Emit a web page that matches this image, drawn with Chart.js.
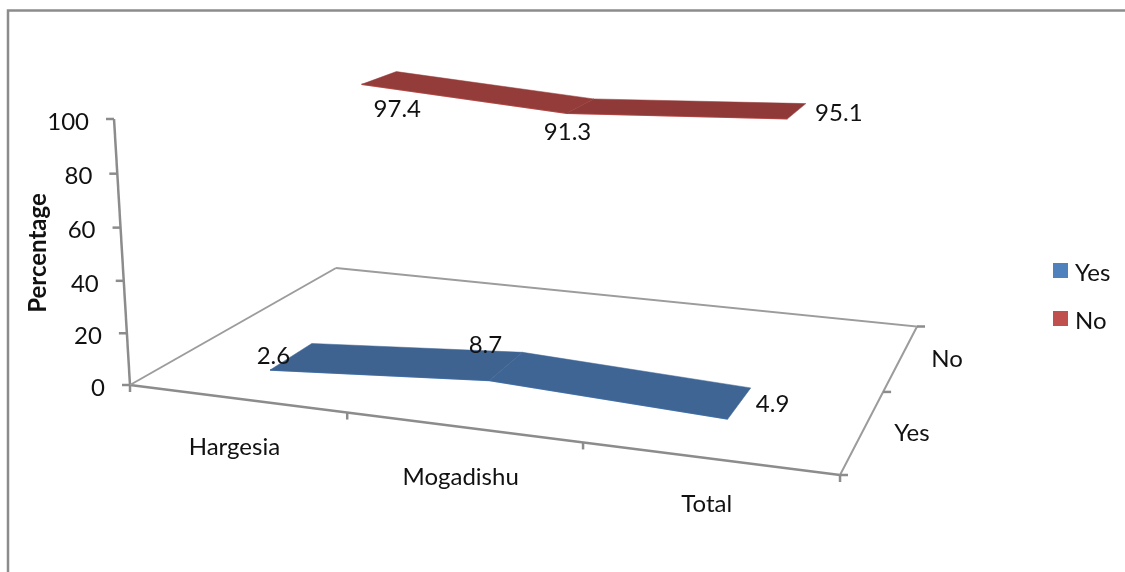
<!DOCTYPE html>
<html>
<head>
<meta charset="utf-8">
<title>Percentage by city</title>
<script src="https://cdn.jsdelivr.net/npm/chart.js@4/dist/chart.umd.min.js"></script>
<style>
  html, body { margin: 0; padding: 0; background: #fff; overflow: hidden; }
  #wrap { width: 1125px; height: 572px; }
</style>
</head>
<body>
<div id="wrap"><canvas id="surveyChart" width="1125" height="572"></canvas></div>
<script>
// chart data
const categories = ["Hargesia", "Mogadishu", "Total"];
const seriesNames = ["Yes", "No"];
const yesValues = [2.6, 8.7, 4.9];
const noValues = [97.4, 91.3, 95.1];
const valueTicks = [0, 20, 40, 60, 80, 100];
const axisTitle = "Percentage";

const seriesValues = [yesValues, noValues];
const faceColors = [["#3e6390", "#3f6595"], ["#943c3a", "#8f3a38"]];
const edgeColors = ["#4f81bd", "#d9625e"];
const legendColors = ["#4f81bd", "#c0504d"];
const axisColor = "#8c8c8c";
const textColor = "#111";
const labelFont = "24px Lato, sans-serif";

// manual label placement, in pixels from the projected anchor
const labelOffsets = [
  [[-18, 0], [-21, -21], [33, 1]],
  [[18, 31], [-13, 26], [42, 2]],
];
const categoryLabelDy = [49, 50, 46];
const seriesLabelDx = [49, 46];

// perspective box: u runs along the categories, t along the series, v up the value axis
const W = 1125, H = 572;
const boxX = [130, 610.5, 285.9, -19.9];
const boxY = [385, 33.73, -53.29, -270.1];
const boxW = [1, -0.11847, 0.23773, -0.0343];

function project(cat, depth, value) {
  const u = cat / categories.length;
  const t = depth / seriesNames.length;
  const v = value / 100;
  const w = boxW[0] + boxW[1] * u + boxW[2] * t + boxW[3] * v;
  return {
    x: (boxX[0] + boxX[1] * u + boxX[2] * t + boxX[3] * v) / w,
    y: (boxY[0] + boxY[1] * u + boxY[2] * t + boxY[3] * v) / w,
  };
}

function lineSet(points, color, width) {
  return { data: points, borderColor: color, borderWidth: width, pointRadius: 0, fill: false, tension: 0 };
}

function faceSet(points, color) {
  return { data: points, borderColor: color, borderWidth: 0.5, backgroundColor: color, pointRadius: 0, fill: "shape", tension: 0 };
}

const datasets = [];
const nCat = categories.length;
const nSer = seriesNames.length;

// floor outline and value axis
datasets.push(lineSet([project(0, nSer, 0), project(nCat, nSer, 0), project(nCat, 0, 0)], "#9c9c9c", 2));
datasets.push(lineSet([project(0, 0, 0), project(0, nSer, 0)], "#9c9c9c", 2));
datasets.push(lineSet([project(0, 0, 0), project(nCat, 0, 0)], axisColor, 2.5));
datasets.push(lineSet([project(0, 0, 0), project(0, 0, 100)], axisColor, 2.5));

// ribbons, one face for each pair of neighbouring categories
seriesValues.forEach((values, s) => {
  const front = s + 0.3;
  const back = s + 0.7;
  for (let i = 0; i < values.length - 1; i++) {
    datasets.push(faceSet([
      project(i + 0.5, front, values[i]),
      project(i + 0.5, back, values[i]),
      project(i + 1.5, back, values[i + 1]),
      project(i + 1.5, front, values[i + 1]),
      project(i + 0.5, front, values[i]),
    ], faceColors[s][i]));
  }
  datasets.push(lineSet(values.map((val, i) => project(i + 0.5, front, val)), edgeColors[s], 1.5));
});

// ticks, labels, legend and frame
const decorations = {
  id: "decorations",
  beforeDatasetsDraw(chart) {
    const ctx = chart.ctx;
    ctx.save();
    ctx.strokeStyle = axisColor;
    ctx.lineWidth = 2.5;
    ctx.strokeRect(8, 10.5, W + 20, H + 20);
    ctx.restore();
  },
  afterDatasetsDraw(chart) {
    const ctx = chart.ctx;
    ctx.save();
    ctx.strokeStyle = axisColor;
    ctx.lineWidth = 2.5;
    const tick = (p, dx, dy) => {
      ctx.beginPath();
      ctx.moveTo(p.x, p.y);
      ctx.lineTo(p.x + dx, p.y + dy);
      ctx.stroke();
    };
    ctx.fillStyle = textColor;
    ctx.font = labelFont;
    ctx.textBaseline = "middle";

    // value axis
    ctx.textAlign = "right";
    valueTicks.forEach((val) => {
      const p = project(0, 0, val);
      tick(p, -8, 0);
      ctx.fillText(String(val), p.x - 25, p.y + 3);
    });

    // category axis
    ctx.textAlign = "center";
    for (let i = 0; i <= nCat; i++) tick(project(i, 0, 0), 0, 7);
    categories.forEach((name, i) => {
      const p = project(i + 0.5, 0, 0);
      ctx.fillText(name, p.x - 2, p.y + categoryLabelDy[i]);
    });

    // series axis
    for (let s = 0; s <= nSer; s++) tick(project(nCat, s, 0), 8, 0);
    seriesNames.forEach((name, s) => {
      const p = project(nCat, s + 0.5, 0);
      ctx.fillText(name, p.x + seriesLabelDx[s], p.y + 2);
    });

    // data labels
    seriesValues.forEach((values, s) => {
      values.forEach((val, i) => {
        const p = project(i + 0.5, s + 0.5, val);
        const off = labelOffsets[s][i];
        ctx.fillText(val.toFixed(1), p.x + off[0], p.y + off[1]);
      });
    });

    // legend
    ctx.textAlign = "left";
    seriesNames.forEach((name, s) => {
      const y = 263 + s * 48;
      ctx.fillStyle = legendColors[s];
      ctx.fillRect(1053, y, 15, 15);
      ctx.fillStyle = textColor;
      ctx.fillText(name, 1075, y + 10);
    });

    // axis title
    ctx.translate(38, 253);
    ctx.rotate(-Math.PI / 2);
    ctx.textAlign = "center";
    ctx.font = "bold 24px Lato, sans-serif";
    ctx.fillText(axisTitle, 0, 0);
    ctx.restore();
  },
};

new Chart(document.getElementById("surveyChart").getContext("2d"), {
  type: "line",
  data: { datasets: datasets },
  options: {
    responsive: false,
    animation: false,
    parsing: false,
    layout: { padding: 0 },
    plugins: { legend: { display: false }, tooltip: { enabled: false } },
    scales: {
      x: { type: "linear", min: 0, max: W, display: false },
      y: { type: "linear", min: 0, max: H, reverse: true, display: false },
    },
  },
  plugins: [decorations],
});
</script>
</body>
</html>
